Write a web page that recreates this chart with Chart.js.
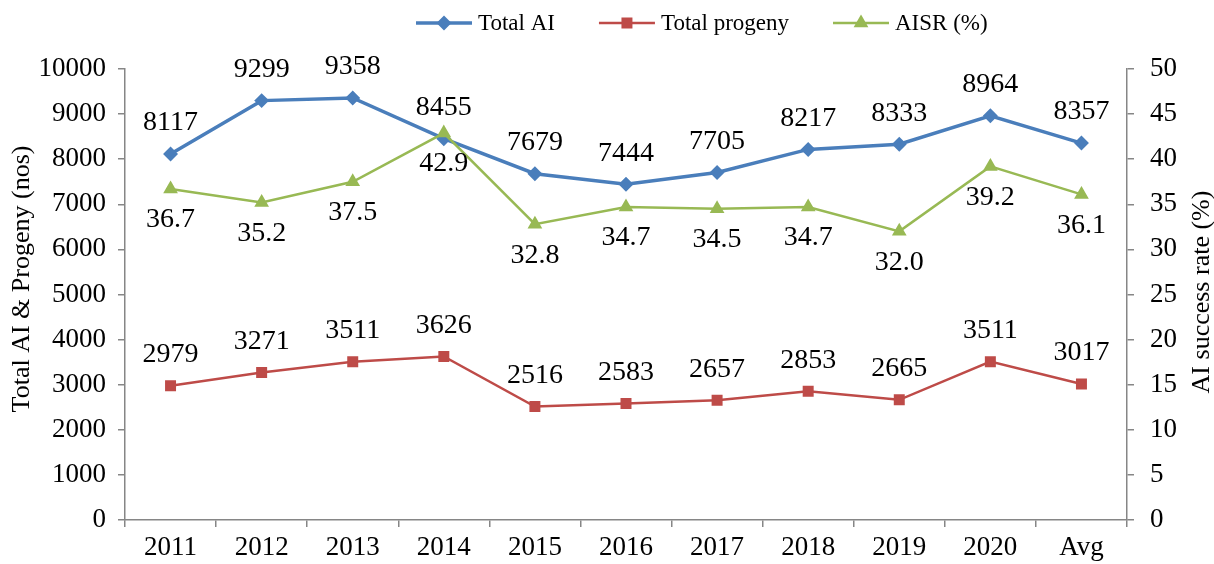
<!DOCTYPE html>
<html>
<head>
<meta charset="utf-8">
<title>Total AI, progeny and AISR</title>
<script src="https://cdn.jsdelivr.net/npm/chart.js@4/dist/chart.umd.min.js"></script>
<style>
    html, body { margin: 0; padding: 0; background: #fff; }
    #wrap { width: 1214px; height: 564px; }
</style>
</head>
<body>
<div id="wrap"><canvas id="chart" width="1214" height="564"></canvas></div>
<script>
// data
const years = ['2011', '2012', '2013', '2014', '2015', '2016', '2017', '2018', '2019', '2020', 'Avg'];
const totalAI = [8117, 9299, 9358, 8455, 7679, 7444, 7705, 8217, 8333, 8964, 8357];
const totalProgeny = [2979, 3271, 3511, 3626, 2516, 2583, 2657, 2853, 2665, 3511, 3017];
const aisr = [36.7, 35.2, 37.5, 42.9, 32.8, 34.7, 34.5, 34.7, 32.0, 39.2, 36.1];

const leftTitle = 'Total AI & Progeny (nos)';
const rightTitle = 'AI success rate (%)';

const serif = '"Liberation Serif", "Times New Roman", serif';
const blue = '#4a7ebb', red = '#be4b48', green = '#98b954', axisGrey = '#868686';

// value labels above/below each point
const valueLabels = {
    id: 'valueLabels',
    afterDatasetsDraw(chart) {
        const ctx = chart.ctx;
        ctx.save();
        ctx.font = '28px ' + serif;
        ctx.fillStyle = '#000';
        ctx.textAlign = 'center';
        ctx.textBaseline = 'middle';
        chart.data.datasets.forEach((ds, i) => {
            const meta = chart.getDatasetMeta(i);
            meta.data.forEach((pt, j) => {
                const v = ds.data[j];
                const txt = ds.decimals ? v.toFixed(ds.decimals) : String(v);
                ctx.fillText(txt, pt.x, pt.y + ds.labelOffset);
            });
        });
        ctx.restore();
    }
};

// legend with line + marker swatches, like the spreadsheet original
const lineLegend = {
    id: 'lineLegend',
    afterDraw(chart) {
        const ctx = chart.ctx;
        const y = 23;
        let x = 416;
        ctx.save();
        ctx.font = '23px ' + serif;
        ctx.textBaseline = 'middle';
        chart.data.datasets.forEach(ds => {
            ctx.strokeStyle = ds.borderColor;
            ctx.lineWidth = ds.borderWidth;
            ctx.beginPath();
            ctx.moveTo(x, y);
            ctx.lineTo(x + 56, y);
            ctx.stroke();
            Chart.helpers.drawPoint(ctx, {
                pointStyle: ds.pointStyle,
                radius: ds.pointRadius,
                borderWidth: 1
            }, x + 28, y);
            ctx.fillStyle = ds.borderColor;
            ctx.fill();
            ctx.fillStyle = '#000';
            ctx.fillText(ds.label, x + 62, y + 1);
            x += 62 + ctx.measureText(ds.label).width + 44;
        });
        ctx.restore();
    }
};

// both axis titles read bottom-to-top
const axisTitles = {
    id: 'axisTitles',
    afterDraw(chart) {
        const ctx = chart.ctx;
        ctx.save();
        ctx.font = '26px ' + serif;
        ctx.fillStyle = '#000';
        ctx.textAlign = 'center';
        ctx.textBaseline = 'middle';
        [[leftTitle, 22, 279], [rightTitle, 1202, 292]].forEach(([t, x, y]) => {
            ctx.save();
            ctx.translate(x, y);
            ctx.rotate(-Math.PI / 2);
            ctx.fillText(t, 0, 0);
            ctx.restore();
        });
        ctx.restore();
    }
};

new Chart(document.getElementById('chart'), {
    type: 'line',
    data: {
        labels: years,
        datasets: [
            {label: 'Total AI', data: totalAI, yAxisID: 'y', borderColor: blue, backgroundColor: blue,
             borderWidth: 3.5, pointStyle: 'rectRot', pointRadius: 5, labelOffset: -31, order: 1},
            {label: 'Total progeny', data: totalProgeny, yAxisID: 'y', borderColor: red, backgroundColor: red,
             borderWidth: 2.5, pointStyle: 'rect', pointRadius: 6, labelOffset: -31, order: 2},
            {label: 'AISR (%)', data: aisr, yAxisID: 'y2', borderColor: green, backgroundColor: green,
             borderWidth: 2.5, pointStyle: 'triangle', pointRadius: 6, labelOffset: 31, decimals: 1, order: 0}
        ]
    },
    options: {
        responsive: false,
        animation: false,
        layout: {padding: {top: 69, left: 0, right: 0, bottom: 0}},
        elements: {
            line: {tension: 0, fill: false},
            point: {borderWidth: 0, hoverRadius: 6}
        },
        plugins: {legend: {display: false}, tooltip: {enabled: false}},
        scales: {
            x: {
                offset: true,
                grid: {offset: true, drawOnChartArea: false, tickLength: 7, color: axisGrey, lineWidth: 1.5},
                border: {color: axisGrey, width: 1.5},
                ticks: {color: '#000', font: {family: serif, size: 27}, padding: 5, maxRotation: 0},
                afterFit(s) { s.height = 44; }
            },
            y: {
                position: 'left', min: 0, max: 10000,
                grid: {drawOnChartArea: false, tickLength: 7, color: axisGrey, lineWidth: 1.5},
                border: {color: axisGrey, width: 1.5},
                ticks: {stepSize: 1000, color: '#000', font: {family: serif, size: 27}, padding: 12,
                        callback: v => String(v)},
                afterFit(s) { s.width = 125; }
            },
            y2: {
                position: 'right', min: 0, max: 50,
                grid: {drawOnChartArea: false, tickLength: 7, color: axisGrey, lineWidth: 1.5},
                border: {color: axisGrey, width: 1.5},
                ticks: {stepSize: 5, color: '#000', font: {family: serif, size: 27}, padding: 16},
                afterFit(s) { s.width = 87; }
            }
        }
    },
    plugins: [valueLabels, lineLegend, axisTitles]
});
</script>
</body>
</html>
